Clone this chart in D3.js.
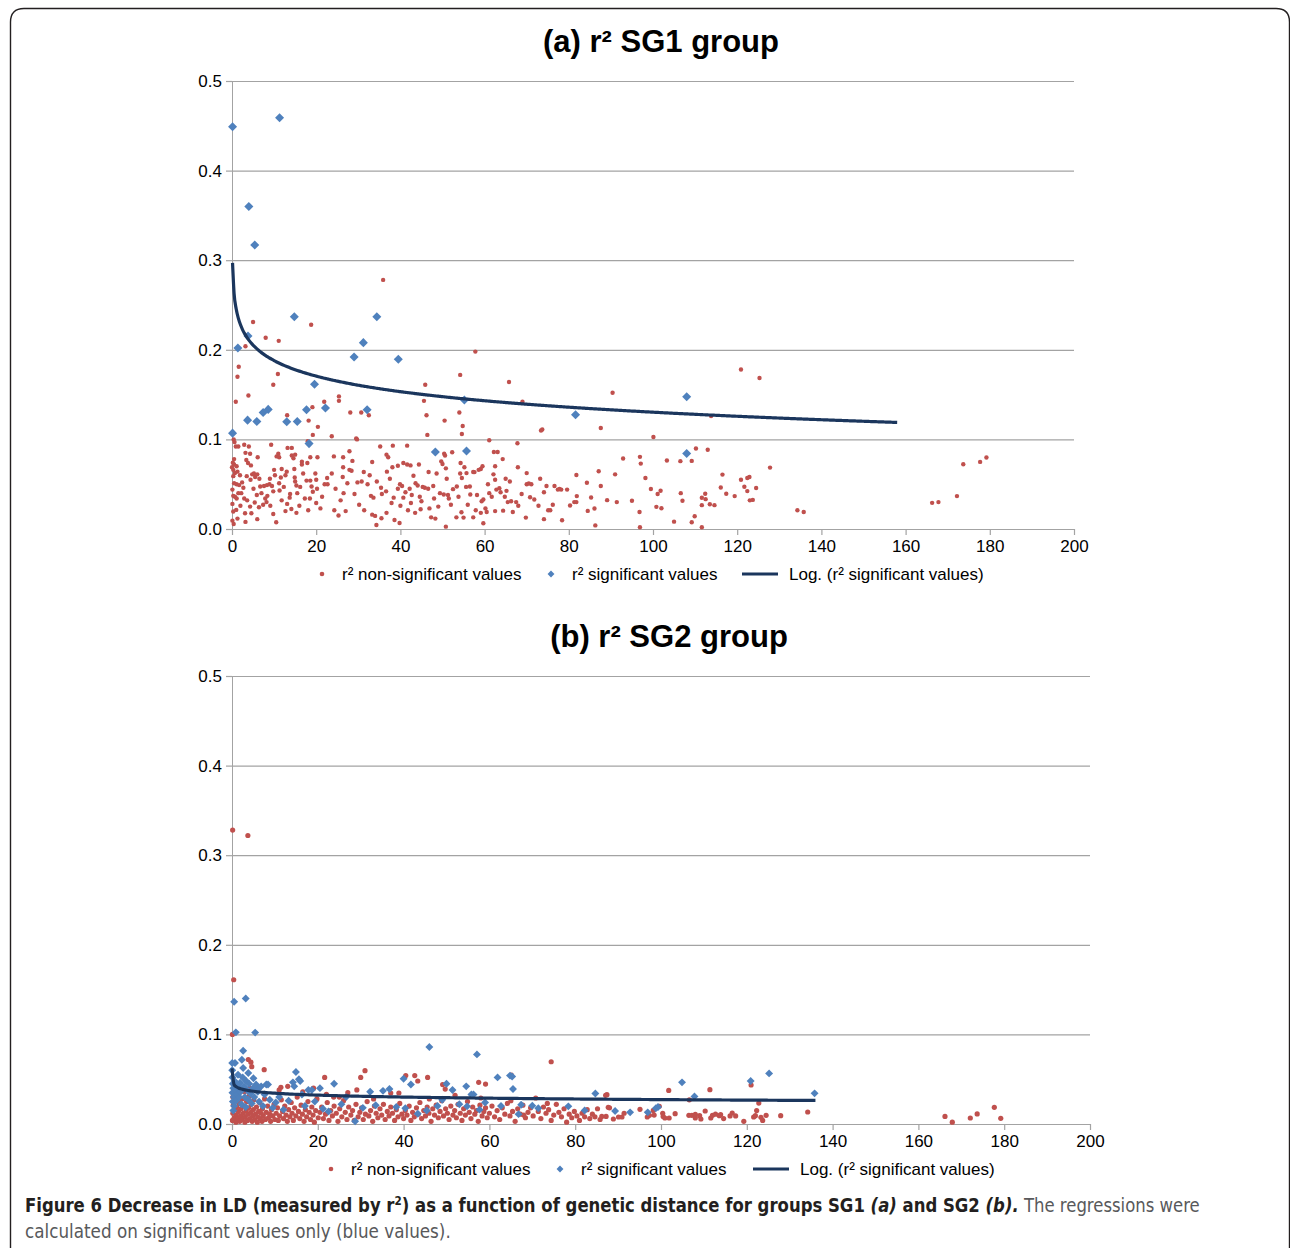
<!DOCTYPE html>
<html>
<head>
<meta charset="utf-8">
<script src="https://cdn.jsdelivr.net/npm/d3@7"></script>
<style>
  body { margin: 0; background: #fff; }
  svg { display: block; }
</style>
</head>
<body>
<svg id="fig" width="1290" height="1248"></svg>
<script>
// ---------- shared axis ticks ----------
const xTicks = [0, 20, 40, 60, 80, 100, 120, 140, 160, 180, 200];
const yTicks = [0, 0.1, 0.2, 0.3, 0.4, 0.5];

// ---------- SG1: r² values (genetic distance, r²) ----------
const sg1NonSig = [
  [35.9,0.278],[5.0,0.231],[3.2,0.204],[8.0,0.2135],[11.1,0.210],[18.8,0.228],[57.8,0.198],
  [1.6,0.181],[1.3,0.170],[0.9,0.142],[3.9,0.149],[10.9,0.173],[9.8,0.161],[13.1,0.127],[18.2,0.121],
  [19.1,0.136],[20.4,0.114],[21.9,0.142],[23.7,0.1035],[19.2,0.105],[25.4,0.148],[25.4,0.143],[28.1,0.130],
  [29.5,0.101],[30.7,0.130],[32.5,0.127],[45.9,0.161],[45.6,0.143],[46.2,0.127],[46.4,0.105],[50.5,0.121],
  [54.0,0.130],[54.2,0.172],[54.8,0.115],[54.6,0.106],[65.8,0.164],[69.0,0.142],[73.4,0.110],[73.7,0.111],
  [67.8,0.0957],[0.4,0.100],[0.6,0.097],
  [120.9,0.178],[125.3,0.1685],[90.4,0.152],[113.8,0.126],[87.6,0.1127],[100.1,0.1026],[110.2,0.0899],[113.0,0.0884],
  [0.9,0.092],[1.5,0.092],[2.9,0.094],[4.0,0.092],[9.3,0.094],[13.2,0.0905],[14.2,0.0905],[18.0,0.098],
  [29.7,0.1],[35.2,0.092],[38.2,0.093],[41.6,0.093],[61.1,0.099],[62.2,0.086],[63.1,0.086],[50.4,0.084],
  [50.6,0.082],[52.3,0.0856],
  [3.2,0.085],[4.3,0.084],[6.1,0.080],[3.4,0.077],[3.8,0.0737],[4.5,0.071],[10.6,0.081],[11.0,0.084],
  [11.2,0.080],[14.2,0.082],[14.6,0.079],[15.0,0.083],[16.6,0.075],[16.6,0.072],[18.6,0.080],[20.3,0.080],
  [17.9,0.0736],[24.2,0.081],[26.4,0.080],[27.9,0.0867],[28.6,0.076],[33.3,0.0748],[36.7,0.083],[37.1,0.080],
  [38.1,0.069],[39.4,0.0706],[40.7,0.0736],[41.6,0.072],[42.4,0.071],[44.4,0.072],[49.7,0.0755],[50.0,0.0725],
  [50.8,0.0677],[54.3,0.0737],[55.2,0.069],[59.1,0.067],[59.5,0.070],[62.5,0.070],[64.3,0.078],[67.9,0.069],
  [92.9,0.0787],[96.9,0.0805],[97.1,0.073],[103.3,0.0764],[106.5,0.0757],[109.2,0.076],[127.8,0.0685],
  [173.7,0.0723],[177.7,0.0749],[179.2,0.0798],
  [0,0.069],[0.3,0.066],[0.5,0.072],[1.1,0.070],[0.3,0.059],[0.5,0.051],[1.1,0.050],[1.7,0.049],[0.1,0.044],
  [0.3,0.037],[0.7,0.036],[1.5,0.040],[2.7,0.046],[3.5,0.059],[4.4,0.055],[4.8,0.061],[5.2,0.062],[5.5,0.058],
  [6.0,0.061],[6.5,0.056],[6.7,0.0475],[7.6,0.048],[8.3,0.049],[8.9,0.050],[9.5,0.048],[9.8,0.042],[11.2,0.051],
  [11.3,0.043],[10.2,0.060],[11.8,0.067],[11.6,0.0575],[12.7,0.060],[13.0,0.064],[14.8,0.067],[14.9,0.0575],
  [15.0,0.053],[15.3,0.0486],[15.5,0.040],[16.2,0.047],[13.7,0.035],[13.1,0.028],[17.7,0.054],[18.6,0.054],
  [18.9,0.0475],[19.2,0.0415],[20.0,0.055],[20.2,0.045],[22.0,0.050],[22.7,0.050],[23.7,0.062],[26.4,0.069],
  [26.3,0.058],[26.5,0.040],[27.9,0.066],[28.4,0.065],[29.8,0.052],[30.8,0.053],[31.3,0.0636],[32.2,0.050],
  [33.0,0.037],[33.6,0.035],[35.4,0.046],[35.6,0.039],[36.6,0.042],[36.8,0.064],[37.5,0.056],[38.4,0.035],
  [39.4,0.045],[39.9,0.050],[40.4,0.048],[40.7,0.035],[41.2,0.041],[42.2,0.045],[42.7,0.038],[43.1,0.0594],
  [43.6,0.051],[44.1,0.0486],[44.6,0.036],[45.3,0.047],[45.8,0.046],[46.6,0.045],[46.9,0.023],[47.8,0.048],
  [48.6,0.062],[49.4,0.040],[50.3,0.0385],[51.0,0.056],[51.3,0.038],[51.5,0.034],[52.5,0.0445],[53.4,0.0475],
  [54.2,0.062],[54.6,0.057],[55.6,0.047],[56.5,0.0475],[56.6,0.0385],[57.6,0.0635],[58.6,0.066],[59.3,0.031],
  [59.7,0.033],[60.2,0.023],[61.1,0.040],[61.7,0.036],[62.1,0.061],[62.5,0.055],[62.8,0.044],[63.5,0.0456],
  [63.8,0.041],[65.0,0.056],[65.2,0.0426],[66.3,0.031],[67.5,0.030],[68.0,0.026],[70.0,0.050],[70.5,0.0508],
  [71.1,0.050],[72.8,0.026],[74.1,0.041],[75.1,0.021],[76.2,0.027],[77.4,0.044],[78.4,0.0097],[79.6,0.044],
  [55.7,0.0624],[57.3,0.0636],[70.0,0.0624],[74.7,0.048],[78.2,0.044],[46.7,0.0636],[76.6,0.048],[77.8,0.0446],
  [81.8,0.0603],[84.3,0.0517],[87.1,0.0644],[91.0,0.061],[98.2,0.0569],[116.5,0.0607],[120.9,0.055],
  [122.4,0.0569],[122.9,0.058],[87.6,0.048],[99.5,0.0446],[101.1,0.039],[101.8,0.0427],[106.6,0.040],
  [116.1,0.0464],[117.4,0.0393],[119.4,0.0367],[121.7,0.0472],[122.4,0.0423],[124.5,0.0457],[112.4,0.0393],
  [111.6,0.0348],[80.3,0.0262],[81.3,0.030],[81.8,0.030],[81.9,0.0367],[84.5,0.0202],[85.3,0.0352],[86.1,0.0228],
  [86.3,0.004],[89.1,0.0322],[91.4,0.030],[95.0,0.0315],[96.8,0.019],[96.9,0.0019],[100.8,0.0247],[102.0,0.0232],
  [105.0,0.0082],[107.0,0.0315],[109.2,0.0075],[109.9,0.0142],[111.6,0.0266],[111.6,0.0019],[112.5,0.0333],
  [113.5,0.0277],[114.6,0.0266],[123.0,0.032],[123.7,0.0325],[134.3,0.021],[135.8,0.019],[166.3,0.0292],
  [167.8,0.030],[172.2,0.0367],
  [0.1,0.028],[0.3,0.0195],[0.1,0.0093],[0.4,0.0056],[1.0,0.0213],[1.3,0.0116],[1.1,0.034],[2.0,0.026],
  [3.1,0.0176],[3.2,0.0079],[3.6,0.032],[4.3,0.025],[4.6,0.0176],[5.4,0.0295],[5.9,0.038],[6.0,0.011],
  [6.4,0.0243],[7.4,0.027],[8.2,0.030],[8.4,0.037],[9.1,0.026],[9.8,0.0168],[10.5,0.0075],[11.8,0.032],
  [12.7,0.020],[14.1,0.0224],[15.3,0.018],[16.0,0.026],[18.1,0.021],[18.5,0.034],[20.0,0.029],[21.0,0.023],
  [24.3,0.021],[25.3,0.015],[27.0,0.020],[29.1,0.039],[31.4,0.021],[33.3,0.016],[34.0,0.0146],[34.3,0.0045],
  [35.5,0.012],[36.7,0.018],[38.6,0.010],[39.8,0.0067],[41.8,0.021],[43.5,0.018],[44.8,0.022],[47.3,0.013],
  [48.3,0.0116],[50.8,0.0026],[53.3,0.013],[54.5,0.0187],[55.0,0.0127],[57.3,0.013],[57.9,0.021],[59.1,0.018],
  [59.7,0.0064],[60.5,0.019],[62.5,0.020],[64.4,0.0205],[65.5,0.030],[66.7,0.019],[69.8,0.0127],[70.8,0.0355],
  [74.1,0.011],[75.6,0.021],
  [0.7,0.0625],[1.3,0.064],[1.9,0.060],[2.4,0.052],[0.2,0.074],[0.5,0.078],[2.2,0.040],[2.9,0.034],[5.1,0.045],
  [7.0,0.040],[7.9,0.034],[9.0,0.056],[10.0,0.066],[12.3,0.047],[13.8,0.039],[16.9,0.062],[17.3,0.034],
  [19.8,0.062],[21.4,0.036],[22.6,0.057],[24.6,0.045],[25.8,0.032],[27.4,0.051],[30.2,0.027],[32.7,0.060],
  [34.4,0.053],[37.9,0.029],[40.0,0.026],[42.5,0.029],[45.0,0.031],[48.0,0.034],[49.0,0.025],[52.0,0.027],
  [53.8,0.036],[56.0,0.027],[58.2,0.038],[60.8,0.050],[64.8,0.036],[66.0,0.053],[68.8,0.039],[71.8,0.033],[73.2,0.056]
];
const sg1Sig = [
  [0.13,0.449],[11.3,0.459],[4.0,0.360],[5.4,0.317],[14.8,0.237],[34.4,0.237],[3.8,0.2155],[1.4,0.202],
  [0.13,0.107],[3.7,0.1215],[5.9,0.120],[7.4,0.130],[8.6,0.1335],[13.0,0.1196],[15.5,0.120],[17.7,0.133],
  [18.3,0.0953],[19.6,0.1615],[22.2,0.135],[29.0,0.192],[31.2,0.208],[32.1,0.133],[39.5,0.1895],[48.3,0.086],
  [55.2,0.144],[55.7,0.087],[81.6,0.1275],[108.0,0.1476],[108.0,0.0843]
];
// logarithmic trend of the significant values: r² = slope·ln(d) + intercept
const sg1Trend = [-0.0250, 0.2455];
const sg1TrendRange = [0.127, 158];

// ---------- SG2: r² values (genetic distance, r²) ----------
const sg2NonSig = [
  [0.15,0.328],[3.7,0.322],[0.4,0.161],[0.1,0.100],[74.4,0.0695],
  [31.0,0.0595],[30.0,0.052],[21.6,0.052],[29.1,0.038],[7.5,0.0606],[11.4,0.041],[3.8,0.072],[4.4,0.069],
  [4.6,0.064],[40.5,0.054],[42.6,0.054],[43.3,0.048],[45.6,0.052],[49.1,0.044],[49.7,0.039],[57.5,0.0465],
  [59.1,0.0446],[65.1,0.0546],[87.4,0.0327],[88.0,0.018],[73.5,0.023],[68.0,0.010],[37.0,0.0346],[38.9,0.0346],
  [23.7,0.030],
  [87.1,0.032],[87.7,0.0186],[86.2,0.0085],[87.2,0.0085],[88.9,0.0056],[90.1,0.0078],[90.9,0.0078],[91.4,0.012],
  [95.1,0.0164],[96.8,0.0078],[97.3,0.0097],[98.4,0.010],[98.2,0.0152],[99.6,0.0197],[100.4,0.012],[100.5,0.0085],
  [100.9,0.0067],[101.8,0.0375],[101.9,0.0067],[103.3,0.0115],[106.5,0.0097],[107.2,0.0097],[106.6,0.027],
  [108.0,0.0108],[108.0,0.0067],[109.0,0.0093],[109.3,0.0056],[110.3,0.0145],[111.4,0.0383],[111.6,0.0067],
  [112.0,0.0097],[112.7,0.011],[113.6,0.0093],[113.9,0.0104],[114.6,0.006],[116.1,0.009],[116.6,0.0123],
  [117.4,0.009],[119.3,0.003],[121.0,0.0435],[121.6,0.0078],[122.0,0.0093],[122.3,0.015],[122.8,0.0234],
  [123.3,0.0074],[123.7,0.004],[124.5,0.0097],[127.9,0.0093],[134.2,0.0134],[166.2,0.0085],[167.9,0.002],
  [172.1,0.0067],[173.7,0.0112],[177.7,0.0186],[179.2,0.0063],
  [0.1,0.004],[0.2,0.012],[0.3,0.021],[0.2,0.030],[0.5,0.007],[0.6,0.016],[0.8,0.026],[0.9,0.002],[1.0,0.010],
  [1.1,0.019],[1.3,0.033],[1.4,0.006],[1.5,0.014],[1.7,0.023],[1.8,0.003],[2.0,0.009],[2.1,0.017],[2.3,0.028],
  [2.4,0.005],[2.6,0.012],[2.7,0.020],[2.9,0.036],[3.0,0.002],[3.1,0.008],[3.3,0.015],[3.4,0.025],[3.6,0.004],
  [3.7,0.011],[3.9,0.018],[4.0,0.031],[4.1,0.040],[4.2,0.006],[4.4,0.013],[4.5,0.022],[4.7,0.003],[4.8,0.009],
  [5.0,0.016],[5.1,0.027],[5.3,0.005],[5.5,0.011],[5.7,0.019],[5.9,0.002],[6.0,0.008],[6.2,0.014],[6.4,0.024],
  [6.6,0.006],[6.8,0.012],[7.0,0.003],[7.1,0.017],[7.3,0.009],[7.6,0.028],[7.8,0.005],[8.0,0.013],[8.3,0.020],
  [8.5,0.007],[8.8,0.011],[9.0,0.003],[9.2,0.016],[9.5,0.009],[9.8,0.022],[10.0,0.005],
  [10.3,0.012],[10.6,0.018],[10.8,0.004],[11.1,0.009],[11.5,0.027],[11.8,0.014],[12.0,0.006],[12.3,0.020],
  [12.6,0.010],[12.9,0.003],[13.2,0.016],[13.5,0.008],[13.8,0.024],[14.0,0.012],[14.3,0.004],[14.6,0.018],
  [14.9,0.009],[15.2,0.030],[15.5,0.014],[15.8,0.006],[16.1,0.021],[16.4,0.011],[16.8,0.003],[17.1,0.016],
  [17.4,0.008],[17.7,0.025],[18.0,0.013],[18.3,0.005],[18.6,0.019],[18.9,0.010],[19.2,0.002],[19.5,0.015],
  [19.8,0.028],[20.1,0.007],[16.5,0.036],[13.0,0.042],[11.0,0.038],[19.0,0.040],
  [20.5,0.013],[20.9,0.019],[21.3,0.006],[21.8,0.011],[22.2,0.024],[22.6,0.004],[23.0,0.015],[23.4,0.009],
  [23.8,0.020],[24.3,0.012],[24.7,0.003],[25.1,0.017],[25.6,0.008],[26.0,0.026],[26.4,0.013],[26.8,0.005],
  [27.2,0.019],[27.7,0.010],[28.1,0.015],[28.5,0.004],[28.9,0.022],[29.4,0.008],[29.8,0.013],[30.2,0.018],
  [30.6,0.005],[31.1,0.011],[31.5,0.025],[31.9,0.009],[32.3,0.015],[32.8,0.003],[33.2,0.020],[33.6,0.012],
  [34.0,0.007],[34.5,0.017],[34.9,0.010],[35.3,0.022],[35.7,0.005],[36.2,0.014],[36.6,0.009],[37.0,0.019],
  [37.4,0.012],[37.9,0.004],[38.3,0.016],[38.7,0.008],[39.1,0.023],[39.6,0.011],[40.0,0.006],[25.0,0.030],
  [27.0,0.035],[33.0,0.028],[22.0,0.033],
  [40.4,0.015],[40.8,0.010],[41.3,0.020],[41.7,0.004],[42.1,0.013],[42.5,0.008],[43.0,0.018],[43.4,0.011],
  [43.8,0.024],[44.2,0.006],[44.7,0.015],[45.1,0.009],[45.5,0.019],[45.9,0.012],[46.4,0.003],[46.8,0.017],
  [47.2,0.010],[47.6,0.021],[48.1,0.007],[48.5,0.014],[48.9,0.026],[49.3,0.009],[49.8,0.017],[50.2,0.012],
  [50.6,0.005],[51.0,0.020],[51.5,0.010],[51.9,0.015],[52.3,0.007],[52.7,0.022],[53.2,0.012],[53.6,0.004],
  [54.0,0.017],[54.4,0.010],[54.9,0.025],[55.3,0.013],[55.7,0.006],[56.1,0.019],[56.6,0.011],[57.0,0.015],
  [57.4,0.003],[57.8,0.021],[58.3,0.009],[58.7,0.014],[59.1,0.018],[59.5,0.007],[46.0,0.028],[52.0,0.032],
  [58.0,0.029],
  [60.0,0.012],[60.6,0.020],[61.2,0.008],[61.8,0.015],[62.4,0.005],[63.0,0.018],[63.6,0.011],[64.2,0.023],
  [64.8,0.009],[65.4,0.014],[66.0,0.003],[66.6,0.017],[67.2,0.011],[67.8,0.021],[68.4,0.007],[69.0,0.013],
  [69.6,0.018],[70.2,0.009],[70.8,0.029],[71.4,0.014],[72.0,0.006],[72.6,0.019],[73.2,0.012],[73.8,0.016],
  [74.4,0.004],[75.0,0.010],[75.6,0.022],[76.2,0.013],[76.8,0.008],[77.4,0.017],[78.0,0.002],[78.6,0.011],
  [79.2,0.007],[79.8,0.014],[80.4,0.009],[81.0,0.004],[81.6,0.012],[82.2,0.008],[82.8,0.016],[83.4,0.006],
  [84.0,0.011],[84.6,0.008],[85.2,0.017],[85.8,0.005],[65.0,0.026]
];
const sg2Sig = [
  [0.5,0.1365],[3.2,0.140],[0.9,0.1023],[5.4,0.102],[2.6,0.0818],[2.3,0.0717],[0.05,0.068],[0.7,0.068],
  [0.05,0.060],[2.6,0.0625],[3.8,0.057],[5.0,0.051],[3.3,0.048],
  [0.1,0.052],[0.2,0.045],[0.3,0.040],[0.1,0.035],[0.4,0.030],[0.2,0.025],[0.5,0.020],[0.3,0.015],[0.6,0.048],
  [0.8,0.038],[1.0,0.044],[1.2,0.033],[1.0,0.026],[1.4,0.055],[1.5,0.041],[1.7,0.030],[1.9,0.046],[2.0,0.036],
  [2.2,0.022],[2.5,0.052],[2.8,0.042],[3.0,0.030],[3.2,0.019],[3.5,0.038],[3.8,0.027],[4.0,0.045],[4.3,0.034],
  [4.6,0.023],[4.9,0.040],[5.2,0.030],[5.6,0.044],[6.0,0.036],[6.3,0.025],[6.1,0.039],[6.8,0.042],[7.2,0.020],
  [7.6,0.033],[8.0,0.044],[8.4,0.044],[8.8,0.027],[9.5,0.018],[10.2,0.024],[11.0,0.030],[12.0,0.016],[13.2,0.026],
  [14.2,0.0465],[14.5,0.042],[14.9,0.058],[15.6,0.050],[15.9,0.048],[16.3,0.033],[17.0,0.020],[17.8,0.038],
  [18.6,0.038],[19.3,0.025],[20.5,0.040],[21.2,0.017],[22.5,0.014],[23.8,0.045],[25.5,0.022],[26.6,0.030],
  [28.7,0.003],[30.5,0.018],[32.2,0.036],[33.5,0.021],[35.2,0.037],[36.7,0.039],[38.3,0.019],[40.0,0.0505],
  [40.4,0.0175],[41.7,0.044],[43.3,0.0115],[45.4,0.015],[46.0,0.086],[47.9,0.020],[49.0,0.027],[50.0,0.045],
  [51.4,0.038],[53.0,0.022],[54.6,0.042],[54.8,0.0197],[55.8,0.033],[56.3,0.033],[57.1,0.0777],[57.7,0.016],
  [59.0,0.024],[61.9,0.052],[62.7,0.020],[64.8,0.054],[65.3,0.053],[65.5,0.039],[66.8,0.011],[67.4,0.0215],
  [70.0,0.0204],[71.4,0.0175],[78.4,0.0197],[82.2,0.015],[84.7,0.034],[89.3,0.0145],[92.8,0.013],[96.9,0.013],
  [98.8,0.0175],[99.3,0.019],[104.9,0.0465],[107.8,0.0308],[120.9,0.048],[125.2,0.0565],[135.8,0.0342]
];
const sg2Trend = [-0.0031, 0.0415];
const sg2TrendRange = [0.0013, 136];

// ---------- legend / title text ----------
const legendLabels = ["r² non-significant values", "r² significant values", "Log. (r² significant values)"];
const panelTitles = ["(a) r² SG1 group", "(b) r² SG2 group"];

// ---------- styling ----------
const RED = "#c0504d", BLUE = "#4f81bd", NAVY = "#1b365d", GRID = "#a3a3a3";
const FONT = "'Liberation Sans', Arial, Helvetica, sans-serif";

const svg = d3.select("#fig");

// outer frame of the figure
svg.append("path")
  .attr("d", "M10.5,1260 L10.5,22 Q10.5,8.5 24,8.5 L1276,8.5 Q1289.5,8.5 1289.5,22 L1289.5,1260")
  .attr("fill", "none").attr("stroke", "#231f20").attr("stroke-width", 1.4);

function drawPanel(cfg) {
  const x = d3.scaleLinear().domain([0, 200]).range([cfg.left, cfg.right]);
  const y = d3.scaleLinear().domain([0, 0.5]).range([cfg.bottom, cfg.top]);
  const g = svg.append("g");

  // title
  g.append("text")
    .attr("x", cfg.titleX).attr("y", cfg.titleY)
    .attr("text-anchor", "middle")
    .attr("font-family", FONT).attr("font-weight", "bold").attr("font-size", 31)
    .attr("fill", "#000").text(cfg.title);

  // horizontal gridlines with left tick stubs
  const yAxis = d3.axisLeft(y).tickValues(yTicks).tickFormat(d3.format(".1f"))
    .tickSize(-(cfg.right - cfg.left)).tickPadding(10);
  const ya = g.append("g").attr("transform", `translate(${cfg.left},0)`).call(yAxis);
  ya.select(".domain").attr("stroke", GRID);
  ya.selectAll(".tick line").attr("stroke", GRID).attr("stroke-width", 1.2);
  ya.selectAll(".tick").append("line")
    .attr("x1", -6).attr("x2", 0).attr("stroke", GRID).attr("stroke-width", 1.2);
  ya.selectAll("text").attr("font-family", FONT).attr("font-size", 17).attr("fill", "#000");

  // bottom axis
  const xAxis = d3.axisBottom(x).tickValues(xTicks).tickSize(6).tickSizeOuter(0).tickPadding(5);
  const xa = g.append("g").attr("transform", `translate(0,${cfg.bottom})`).call(xAxis);
  xa.select(".domain").attr("stroke", GRID).attr("stroke-width", 1.2);
  xa.selectAll(".tick line").attr("stroke", GRID).attr("stroke-width", 1.2);
  xa.selectAll("text").attr("font-family", FONT).attr("font-size", 17).attr("fill", "#000");

  // non-significant values
  g.append("g").selectAll("circle").data(cfg.nonSig).join("circle")
    .attr("cx", d => x(d[0])).attr("cy", d => y(d[1]))
    .attr("r", cfg.dotR).attr("fill", RED);

  // significant values
  const diamond = d3.symbol().type(d3.symbolDiamond2).size(cfg.diamondSize);
  g.append("g").selectAll("path").data(cfg.sig).join("path")
    .attr("transform", d => `translate(${x(d[0])},${y(d[1])})`)
    .attr("d", diamond).attr("fill", BLUE);

  // logarithmic trend line
  const [lo, hi] = cfg.trendRange;
  const logX = d3.scaleLog().domain([lo, hi]);
  const trendPts = logX.ticks(400).filter(v => v >= lo && v <= hi);
  trendPts.unshift(lo); trendPts.push(hi);
  const line = d3.line().x(d => x(d)).y(d => y(cfg.trend[0] * Math.log(d) + cfg.trend[1])).curve(d3.curveMonotoneX);
  g.append("path").datum(trendPts).attr("d", line)
    .attr("fill", "none").attr("stroke", NAVY).attr("stroke-width", 3.2).attr("stroke-linecap", "butt");

  // legend
  const lg = g.append("g").attr("font-family", FONT).attr("font-size", 17).attr("fill", "#000");
  const ly = cfg.legendY;
  lg.append("circle").attr("cx", cfg.legendX[0]).attr("cy", ly).attr("r", 2.3).attr("fill", RED);
  lg.append("text").attr("x", cfg.legendX[0] + 20).attr("y", ly + 6).text(legendLabels[0]);
  lg.append("path").attr("transform", `translate(${cfg.legendX[1]},${ly})`)
    .attr("d", d3.symbol().type(d3.symbolDiamond2).size(30)).attr("fill", BLUE);
  lg.append("text").attr("x", cfg.legendX[1] + 21).attr("y", ly + 6).text(legendLabels[1]);
  lg.append("line").attr("x1", cfg.legendX[2]).attr("x2", cfg.legendX[2] + 36)
    .attr("y1", ly).attr("y2", ly).attr("stroke", NAVY).attr("stroke-width", 3.2);
  lg.append("text").attr("x", cfg.legendX[2] + 47).attr("y", ly + 6).text(legendLabels[2]);
}

drawPanel({
  title: panelTitles[0], titleX: 661, titleY: 52,
  left: 232, right: 1074, top: 81, bottom: 529,
  nonSig: sg1NonSig, sig: sg1Sig, trend: sg1Trend, trendRange: sg1TrendRange,
  dotR: 2.2, diamondSize: 52,
  legendY: 574, legendX: [322, 551, 742]
});

drawPanel({
  title: panelTitles[1], titleX: 669, titleY: 647,
  left: 232, right: 1090, top: 676, bottom: 1124,
  nonSig: sg2NonSig, sig: sg2Sig, trend: sg2Trend, trendRange: sg2TrendRange,
  dotR: 2.6, diamondSize: 40,
  legendY: 1169, legendX: [331, 560, 753]
});

// ---------- figure caption ----------
const CAP_FONT = "'Liberation Sans Narrow', 'DejaVu Sans Condensed', 'Open Sans', sans-serif";
const cap = svg.append("g").attr("font-family", CAP_FONT).attr("font-size", 19);

function captionLine(yPos, parts, targetWidth) {
  const t = cap.append("text").attr("x", 0).attr("y", 0);
  parts.forEach(p => {
    const s = t.append("tspan").text(p.text)
      .attr("fill", p.bold ? "#231f20" : "#58595b")
      .attr("font-weight", p.bold ? "bold" : "normal")
      .attr("font-style", p.italic ? "italic" : "normal");
    if (p.sup) s.attr("font-size", 12).attr("dy", -7);
    if (p.after) s.attr("dy", 7);
  });
  const w = t.node().getComputedTextLength();
  t.attr("transform", `translate(25,${yPos}) scale(${targetWidth / w},1)`);
}

captionLine(1212, [
  { text: "Figure 6 Decrease in LD (measured by r", bold: true },
  { text: "2", bold: true, sup: true },
  { text: ") as a function of genetic distance for groups SG1 ", bold: true, after: true },
  { text: "(a)", bold: true, italic: true },
  { text: " and SG2 ", bold: true },
  { text: "(b).", bold: true, italic: true },
  { text: " The regressions were" }
], 1176);

captionLine(1238, [
  { text: "calculated on significant values only (blue values)." }
], 426);
</script>
</body>
</html>
